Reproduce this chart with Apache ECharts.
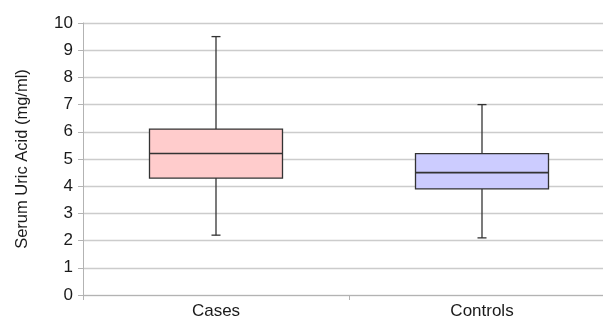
<!DOCTYPE html>
<html>
<head>
<meta charset="utf-8">
<script src="https://cdn.jsdelivr.net/npm/echarts@6/dist/echarts.min.js"></script>
<style>html,body{margin:0;padding:0;background:#fff;overflow:hidden;width:603px;height:325px}#c{width:615px;height:325px}</style>
</head>
<body>
<div id="c"></div>
<script>
const categories = ['Cases', 'Controls'];
const minVals = [2.2, 2.1];
const q1Vals = [4.3, 3.9];
const medianVals = [5.2, 4.5];
const q3Vals = [6.1, 5.2];
const maxVals = [9.5, 7.0];
const fillColors = ['#ffcccc', '#ccccff'];
const yTicks = [0, 10, 1];

const data = categories.map((c, i) => [i, minVals[i], q1Vals[i], medianVals[i], q3Vals[i], maxVals[i]]);

const chart = echarts.init(document.getElementById('c'), null, {renderer: 'canvas'});
chart.setOption({
  animation: false,
  grid: {left: 83, right: 0, top: 23, bottom: 30},
  xAxis: {
    type: 'category',
    data: categories,
    boundaryGap: true,
    axisLine: {show: true, lineStyle: {color: '#b3b3b3', width: 1}},
    axisTick: {show: true, length: 5, lineStyle: {color: '#b3b3b3'}},
    axisLabel: {color: '#1a1a1a', fontSize: 17, fontFamily: 'Liberation Sans', margin: 8},
    splitLine: {show: false}
  },
  yAxis: {
    type: 'value',
    min: yTicks[0], max: yTicks[1], interval: yTicks[2],
    name: 'Serum Uric Acid (mg/ml)',
    nameLocation: 'middle',
    nameGap: 52,
    nameRotate: 90,
    nameTextStyle: {color: '#1a1a1a', fontSize: 16.5, fontFamily: 'Liberation Sans'},
    axisLine: {show: true, lineStyle: {color: '#b3b3b3', width: 1}},
    axisTick: {show: true, length: 5, lineStyle: {color: '#b3b3b3'}},
    axisLabel: {color: '#1a1a1a', fontSize: 17, fontFamily: 'Liberation Sans', margin: 10},
    splitLine: {show: true, lineStyle: {color: '#cccccc', width: 1.3}}
  },
  series: [{
    type: 'custom',
    data: data,
    encode: {x: 0, y: [1, 2, 3, 4, 5]},
    renderItem: function (params, api) {
      const idx = api.value(0);
      const band = api.size([1, 0])[0];
      const half = band * 0.25;
      const cap = 4.5;
      const pMin = api.coord([idx, api.value(1)]);
      const pQ1 = api.coord([idx, api.value(2)]);
      const pMed = api.coord([idx, api.value(3)]);
      const pQ3 = api.coord([idx, api.value(4)]);
      const pMax = api.coord([idx, api.value(5)]);
      const x = pMed[0];
      const ls = {stroke: '#333333', lineWidth: 1.3};
      return {
        type: 'group',
        children: [
          {type: 'line', shape: {x1: x, y1: pQ3[1], x2: x, y2: pMax[1]}, style: ls},
          {type: 'line', shape: {x1: x, y1: pQ1[1], x2: x, y2: pMin[1]}, style: ls},
          {type: 'line', shape: {x1: x - cap, y1: pMax[1], x2: x + cap, y2: pMax[1]}, style: ls},
          {type: 'line', shape: {x1: x - cap, y1: pMin[1], x2: x + cap, y2: pMin[1]}, style: ls},
          {type: 'rect', shape: {x: x - half, y: pQ3[1], width: half * 2, height: pQ1[1] - pQ3[1]},
            style: {fill: fillColors[params.dataIndex], stroke: '#333333', lineWidth: 1.3}},
          {type: 'line', shape: {x1: x - half, y1: pMed[1], x2: x + half, y2: pMed[1]}, style: {stroke: '#333333', lineWidth: 1.6}}
        ]
      };
    }
  }]
});
</script>
</body>
</html>
